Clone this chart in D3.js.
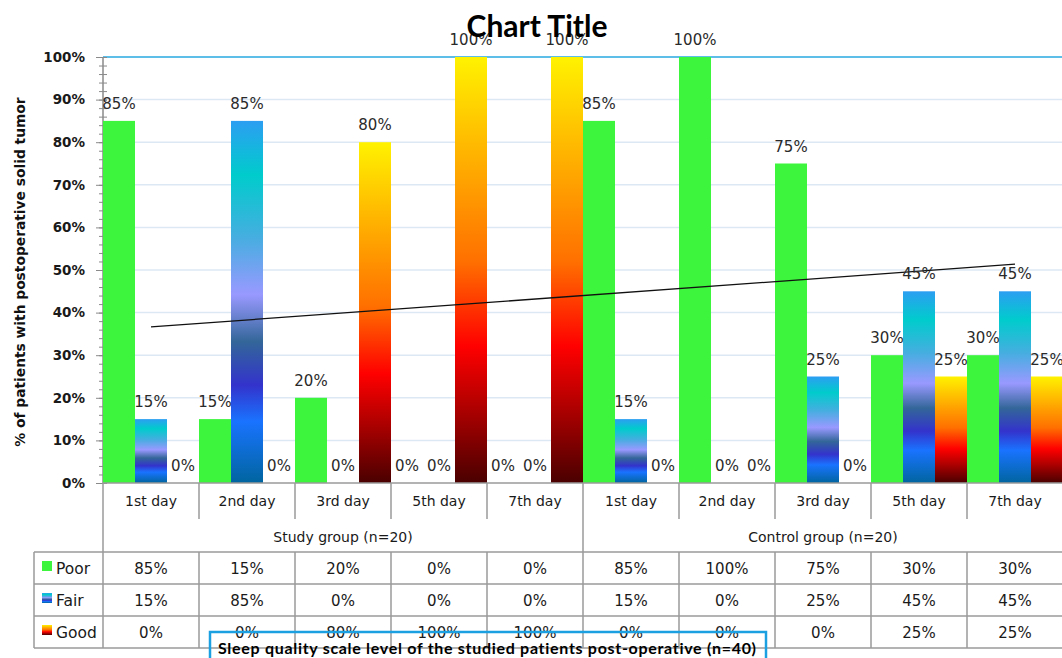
<!DOCTYPE html>
<html>
<head>
<meta charset="utf-8">
<script src="https://cdn.jsdelivr.net/npm/d3@7"></script>
<style>
body { margin: 0; background: #fff; }
svg text { font-family: "DejaVu Sans", sans-serif; fill: #1a1a1a; }
</style>
</head>
<body>
<div id="chart"></div>
<script>
// data
const groups = ['Study group (n=20)', 'Control group (n=20)'];
const days = ['1st day', '2nd day', '3rd day', '5th day', '7th day'];
const seriesNames = ['Poor', 'Fair', 'Good'];
const poor = [85, 15, 20, 0, 0, 85, 100, 75, 30, 30];
const fair = [15, 85, 0, 0, 0, 15, 0, 25, 45, 45];
const good = [0, 0, 80, 100, 100, 0, 0, 0, 25, 25];
const yTicks = [0, 10, 20, 30, 40, 50, 60, 70, 80, 90, 100];
const chartTitle = 'Chart Title';
const yTitle = '% of patients with postoperative solid tumor';
const boxTitle = 'Sleep quality scale level of the studied patients post-operative (n=40)';

const config = {
	width: 1062, height: 658,
	left: 103, right: 1063, top: 57, bottom: 483,
	catRowBottom: 519, groupRowBottom: 552, rowH: 32, tableLeft: 34
};

const values = {Poor: poor, Fair: fair, Good: good};
const cats = groups.flatMap(g => days);

const svg = d3.select('#chart').append('svg')
	.attr('width', config.width)
	.attr('height', config.height);

//Gradients (Excel-like presets)
const defs = svg.append('defs');
const gradStops = {
	Fair: [[0, '#2c9ef2'], [0.15, '#00cccc'], [0.32, '#45aee0'], [0.48, '#9999ff'], [0.61, '#336699'], [0.73, '#3333cc'], [0.83, '#1a73ff'], [1, '#00659f']],
	Good: [[0, '#fff200'], [0.27, '#ffa800'], [0.48, '#ff7000'], [0.68, '#ff0000'], [0.85, '#a00000'], [1, '#4a0000']]
};
Object.entries(gradStops).forEach(([name, stops]) => {
	const g = defs.append('linearGradient')
		.attr('id', 'grad' + name)
		.attr('x1', 0).attr('y1', 0).attr('x2', 0).attr('y2', 1);
	g.selectAll('stop').data(stops).join('stop')
		.attr('offset', d => d[0])
		.attr('stop-color', d => d[1]);
});
const fills = {Poor: '#3cf53c', Fair: 'url(#gradFair)', Good: 'url(#gradGood)'};

//Scales
const x = d3.scaleBand().domain(d3.range(cats.length)).range([config.left, config.right]).padding(0);
const xSub = d3.scaleBand().domain(seriesNames).range([0, x.bandwidth()]).padding(0);
const y = d3.scaleLinear().domain([0, 100]).range([config.bottom, config.top]);

//Gridlines
svg.append('g').selectAll('line')
	.data(yTicks.filter(d => d > 0))
	.join('line')
	.attr('x1', config.left).attr('x2', config.width)
	.attr('y1', d => y(d)).attr('y2', d => y(d))
	.attr('stroke', d => d === 100 ? '#27a8e0' : '#dde8f5')
	.attr('stroke-width', 1.5);

//Minor + major ticks
svg.append('g')
	.attr('transform', `translate(${config.left + 4},0)`)
	.call(d3.axisLeft(y).tickValues(d3.range(0, 101, 2)).tickSize(8).tickFormat(''))
	.call(g => g.select('.domain').remove())
	.call(g => g.selectAll('line').attr('stroke', '#8a8a8a'));

svg.append('g')
	.attr('transform', `translate(${config.left + 4},0)`)
	.call(d3.axisLeft(y).tickValues(yTicks).tickSize(11).tickPadding(8).tickFormat(d => d + '%'))
	.call(g => g.select('.domain').remove())
	.call(g => g.selectAll('line').attr('stroke', '#8a8a8a'))
	.call(g => g.selectAll('text')
		.attr('x', -22)
		.style('font-family', '"DejaVu Sans", sans-serif')
		.style('font-size', '13.5px')
		.style('font-weight', 'bold')
		.style('fill', '#1a1a1a'));

svg.append('line')
	.attr('x1', config.left).attr('x2', config.left)
	.attr('y1', config.top).attr('y2', config.bottom)
	.attr('stroke', '#8a8a8a').attr('stroke-width', 1.5);

//Bars
const barData = cats.flatMap((c, i) => seriesNames.map(s => ({i, s, v: values[s][i]})));

svg.append('g').selectAll('rect')
	.data(barData)
	.join('rect')
	.attr('x', d => x(d.i) + xSub(d.s))
	.attr('y', d => y(d.v))
	.attr('width', xSub.bandwidth())
	.attr('height', d => y(0) - y(d.v))
	.attr('fill', d => fills[d.s]);

//Trendline (linear fit on Poor)
const xs = d3.range(poor.length);
const mx = d3.mean(xs), my = d3.mean(poor);
const slope = d3.sum(xs, k => (k - mx) * (poor[k] - my)) / d3.sum(xs, k => (k - mx) ** 2);
const icpt = my - slope * mx;
const trend = [0, poor.length - 1].map(k => [x(k) + x.bandwidth() / 2, y(icpt + slope * k)]);
svg.append('path')
	.attr('d', d3.line()(trend))
	.attr('stroke', '#111')
	.attr('stroke-width', 1.3)
	.attr('fill', 'none');

//Data labels
svg.append('g').selectAll('text')
	.data(barData)
	.join('text')
	.attr('x', d => x(d.i) + xSub(d.s) + xSub.bandwidth() / 2)
	.attr('y', d => y(d.v) - 12)
	.attr('text-anchor', 'middle')
	.style('font-size', '15px')
	.style('fill', '#2a2a2a')
	.text(d => d.v + '%');

//Table lines
const tbl = svg.append('g')
	.attr('stroke', '#9a9a9a')
	.attr('stroke-width', 1.5);
const rowLines = [config.groupRowBottom, ...d3.range(1, 4).map(r => config.groupRowBottom + r * config.rowH)];
const tableBottom = rowLines[rowLines.length - 1];

tbl.append('line')
	.attr('x1', config.left).attr('x2', config.width)
	.attr('y1', config.bottom).attr('y2', config.bottom);
tbl.selectAll('.hrow')
	.data(rowLines)
	.join('line')
	.attr('class', 'hrow')
	.attr('x1', config.tableLeft).attr('x2', config.width)
	.attr('y1', d => d).attr('y2', d => d);

const innerEdges = d3.range(1, cats.length).filter(i => i !== days.length).map(i => x(i));
tbl.selectAll('.vcat')
	.data(innerEdges)
	.join('line')
	.attr('class', 'vcat')
	.attr('x1', d => d).attr('x2', d => d)
	.attr('y1', config.bottom).attr('y2', config.catRowBottom);
tbl.selectAll('.vdat')
	.data(innerEdges)
	.join('line')
	.attr('class', 'vdat')
	.attr('x1', d => d).attr('x2', d => d)
	.attr('y1', config.groupRowBottom).attr('y2', tableBottom);
tbl.selectAll('.vfull')
	.data([x(0), x(days.length)])
	.join('line')
	.attr('class', 'vfull')
	.attr('x1', d => d).attr('x2', d => d)
	.attr('y1', config.bottom).attr('y2', tableBottom);
tbl.append('line')
	.attr('x1', config.tableLeft).attr('x2', config.tableLeft)
	.attr('y1', config.groupRowBottom).attr('y2', tableBottom);

//Category and group labels
svg.append('g').selectAll('text')
	.data(cats)
	.join('text')
	.attr('x', (d, i) => x(i) + x.bandwidth() / 2)
	.attr('y', config.bottom + 23)
	.attr('text-anchor', 'middle')
	.style('font-size', '14px')
	.text(d => d);

svg.append('g').selectAll('text')
	.data(groups)
	.join('text')
	.attr('x', (d, gi) => (x(gi * days.length) + x(gi * days.length + days.length - 1) + x.bandwidth()) / 2)
	.attr('y', config.catRowBottom + 23)
	.attr('text-anchor', 'middle')
	.style('font-size', '14px')
	.text(d => d);

//Table values + legend keys
seriesNames.forEach((s, r) => {
	const cy = config.groupRowBottom + r * config.rowH + config.rowH / 2;
	svg.append('g').selectAll('text')
		.data(values[s])
		.join('text')
		.attr('x', (d, i) => x(i) + x.bandwidth() / 2)
		.attr('y', cy + 6)
		.attr('text-anchor', 'middle')
		.style('font-size', '15px')
		.text(d => d + '%');
	svg.append('rect')
		.attr('x', 42).attr('y', cy - 7)
		.attr('width', 10).attr('height', 10)
		.attr('fill', fills[s]);
	svg.append('text')
		.attr('x', 56).attr('y', cy + 6)
		.style('font-size', '15.5px')
		.text(s);
});

//Y axis title
svg.append('text')
	.attr('transform', `translate(25,${(config.top + config.bottom) / 2 + 2}) rotate(-90)`)
	.attr('text-anchor', 'middle')
	.style('font-size', '13.8px')
	.style('font-weight', 'bold')
	.style('fill', '#111')
	.text(yTitle);

//Chart title
svg.append('text')
	.attr('x', 537).attr('y', 37)
	.attr('text-anchor', 'middle')
	.style('font-family', 'Lato, sans-serif')
	.style('font-size', '30px')
	.style('font-weight', 'bold')
	.style('fill', '#000')
	.text(chartTitle);

//Axis title text box
svg.append('rect')
	.attr('x', 210).attr('y', 632)
	.attr('width', 556).attr('height', 40)
	.attr('fill', 'none')
	.attr('stroke', '#1ba1e2')
	.attr('stroke-width', 2.5);
svg.append('text')
	.attr('x', 218).attr('y', 654)
	.style('font-family', 'Lato, sans-serif')
	.style('font-size', '16px')
	.style('font-weight', 'bold')
	.style('letter-spacing', '0.7px')
	.style('fill', '#000')
	.text(boxTitle);
</script>
</body>
</html>
